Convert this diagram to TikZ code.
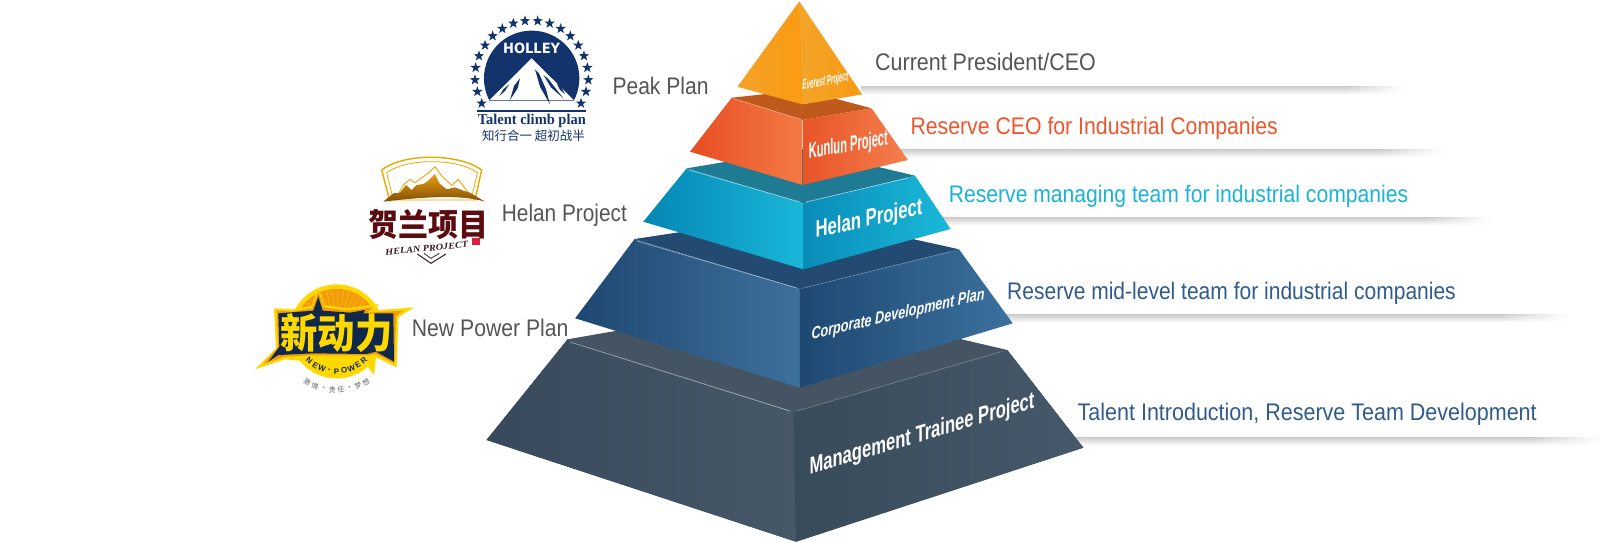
\documentclass[tikz,border=0pt]{standalone}
\usepackage{fontspec}
\usepackage{graphicx}
\setmainfont{Liberation Sans}
\newfontfamily\lserif{Liberation Serif}
\newfontfamily\cjkf{Noto Sans CJK SC}
\newfontfamily\blockf{DejaVu Sans}
\usetikzlibrary{shapes.geometric,fadings}
\tikzfading[name=bandfade,left color=transparent!100,right color=transparent!0]
\definecolor{navy}{HTML}{12336B}
\definecolor{txtgray}{HTML}{555555}
\definecolor{txtorange}{HTML}{F0562B}
\definecolor{txtcyan}{HTML}{1BB3D6}
\definecolor{txtblue}{HTML}{2F5C8C}
\definecolor{goldline}{HTML}{E8A800}
\definecolor{npnavy}{HTML}{10294A}
\definecolor{npyellow}{HTML}{FFD800}
\definecolor{nporange}{HTML}{F39A0E}
\newcommand\sidelabel[6]{\node[anchor=base west,inner sep=0pt,text=#1] (#2) at (#3,#4) {\resizebox{#5pt}{\height}{\fontsize{24}{24}\selectfont #6}};}
\newcommand\shadowband[3]{%
  \shade[top color=black!21,bottom color=white] (861,#1) rectangle (#3,#1+8.5);
  \fill[white,path fading=bandfade] (#2,#1-.5) rectangle (#3,#1+9);}
\tikzset{
  tierlabel/.style={transform shape,text=white,inner sep=0pt,font=\bfseries},
  hilite/.style={white,opacity=.45,line width=.8pt},
  hilitefaint/.style={white,opacity=.2,line width=.8pt},
  holleystar/.style={star,star points=5,star point ratio=2.5,fill=navy,inner sep=0pt,minimum size=11pt},
}
\begin{document}
\begin{tikzpicture}[x=1pt,y=-1pt]
\useasboundingbox (0,0) rectangle (1600,543);
\fill[white] (0,0) rectangle (1600,543);
% shadows under the right-hand labels
\shadowband{86}{1345}{1402}
\shadowband{149}{1380}{1441}
\shadowband{217}{1425}{1489}
\shadowband{314}{1500}{1567}
\shadowband{437}{1530}{1600}
% Management Trainee
\fill[color={rgb,255:red,66;green,84;blue,98}] (793.4,412.3) -- (1007.3,350) -- (1083.3,447.7) -- (796,541.7) -- (486.5,440) -- (567.6,339.3) -- cycle;
\fill[color={rgb,255:red,68;green,84;blue,98}] (567.6,339.3) -- (793.5,300) -- (1007.3,350) -- (793.4,412.3) -- cycle;
\shade[left color={rgb,255:red,55;green,73;blue,90},right color={rgb,255:red,70;green,88;blue,104}] (567.6,339.3) -- (793.4,412.3) -- (796,541.7) -- (486.5,440) -- cycle;
\shade[left color={rgb,255:red,56;green,75;blue,91},right color={rgb,255:red,70;green,89;blue,106}] (793.4,412.3) -- (1007.3,350) -- (1083.3,447.7) -- (796,541.7) -- cycle;
\draw[hilite] (570,342) -- (790,411);
\draw[hilitefaint] (797,411) -- (1000,352);
% Corporate Development
\fill[color={rgb,255:red,35;green,74;blue,112}] (634.6,239) -- (800,214) -- (959,249.3) -- (799.9,289) -- cycle;
\shade[left color={rgb,255:red,29;green,71;blue,112},right color={rgb,255:red,62;green,112;blue,156}] (634.6,239) -- (799.9,289) -- (799.9,387.7) -- (575.2,318.3) -- cycle;
\shade[left color={rgb,255:red,30;green,72;blue,114},right color={rgb,255:red,60;green,113;blue,157}] (799.9,289) -- (959,249.3) -- (1012.7,323.3) -- (799.9,387.7) -- cycle;
\draw[hilite] (637,241) -- (797,288);
\draw[hilitefaint] (803,288) -- (950,252);
% Helan
\fill[color={rgb,255:red,31;green,122;blue,147}] (686.7,168.3) -- (803,149) -- (915,175.7) -- (803.3,203.3) -- cycle;
\shade[left color={rgb,255:red,4;green,135;blue,179},right color={rgb,255:red,26;green,182;blue,216}] (686.7,168.3) -- (803.3,203.3) -- (803.3,269.3) -- (643.3,221.7) -- cycle;
\shade[left color={rgb,255:red,8;green,140;blue,184},right color={rgb,255:red,27;green,185;blue,217}] (803.3,203.3) -- (915,175.7) -- (950.5,229) -- (803.3,269.3) -- cycle;
\draw[hilite] (689,170) -- (800,202);
\draw[hilite] (806,202) -- (908,178);
% Kunlun
\fill[color={rgb,255:red,192;green,90;blue,28}] (731.7,97.7) -- (803,90) -- (871.5,108.3) -- (802.7,120) -- cycle;
\fill[color={rgb,255:red,236;green,90;blue,44}] (802.7,120) rectangle (804,185);
\shade[left color={rgb,255:red,230;green,78;blue,34},right color={rgb,255:red,245;green,122;blue,69}] (731.7,97.7) -- (802.7,120) -- (802.7,185) -- (690,151.7) -- cycle;
\shade[left color={rgb,255:red,232;green,84;blue,40},right color={rgb,255:red,245;green,127;blue,77}] (802.7,120) -- (871.5,108.3) -- (907.9,160) -- (802.7,185) -- cycle;
\draw[white,opacity=.3,line width=.7pt] (734,99) -- (800,119);
% Everest
\fill[color={rgb,255:red,248;green,158;blue,26}] (799.3,1.7) -- (861.8,94.3) -- (802.7,104.3) -- (737.7,86.7) -- cycle;
\shade[left color={rgb,255:red,243;green,162;blue,40},right color={rgb,255:red,251;green,155;blue,18}] (799.3,1.7) -- (802.7,104.3) -- (737.7,86.7) -- cycle;
\shade[left color={rgb,255:red,243;green,165;blue,42},right color={rgb,255:red,249;green,154;blue,20}] (799.3,1.7) -- (861.8,94.3) -- (802.7,104.3) -- cycle;
% tier labels
\node[tierlabel,yslant=.2] (everest) at (825.3,81.7) {\resizebox{46pt}{\height}{\fontsize{14}{14}\selectfont\itshape Everest Project}};
\node[tierlabel,yslant=.17] (kunlun) at (848.3,146) {\resizebox{79pt}{\height}{\fontsize{22}{22}\selectfont Kunlun Project}};
\node[tierlabel,yslant=.22] (helan) at (869,220) {\resizebox{107pt}{\height}{\fontsize{24}{24}\selectfont Helan Project}};
\node[tierlabel,yslant=.23] (corp) at (898,315) {\resizebox{173pt}{\height}{\fontsize{17}{17}\selectfont\itshape Corporate Development Plan}};
\node[tierlabel,yslant=.297] (mgmt) at (922,435) {\resizebox{225pt}{\height}{\fontsize{24}{24}\selectfont Management Trainee Project}};
% right labels
\sidelabel{txtgray}{ceo}{875}{70.7}{220.6}{Current President/CEO}
\sidelabel{txtorange}{rceo}{910.3}{134}{367.4}{Reserve CEO for Industrial Companies}
\sidelabel{txtcyan}{rmgr}{948.6}{202.7}{459.4}{Reserve managing team for industrial companies}
\sidelabel{txtblue}{rmid}{1007}{299.3}{448.6}{Reserve mid-level team for industrial companies}
\sidelabel{txtblue}{rtal}{1077.5}{420.7}{459}{Talent Introduction, Reserve Team Development}
% left labels
\sidelabel{txtgray}{peak}{612.3}{94.3}{96}{Peak Plan}
\sidelabel{txtgray}{helanl}{501.7}{221.7}{125}{Helan Project}
\sidelabel{txtgray}{newp}{411.7}{336.7}{156.6}{New Power Plan}
% Holley logo
\begin{scope}[shift={(465,10)},x=.3333pt,y=-.3333pt]
  \foreach \X/\Y [count=\i] in {50/280,37/245,30/210,32/173,42/138,60/106,83/78,112/56,145/40,180/33,218/33,254/40,287/56,316/78,340/106,357/138,367/173,370/210,363/245,348/280}
    \node[holleystar] (hstar\i) at (\X,\Y) {};
  \begin{scope}
    \clip (0,0) rectangle (420,271);
    \fill[navy] (200,205) circle (47.7pt);
  \end{scope}
  \fill[white] (200,145) -- (327,271) -- (73,271) -- cycle;
  \fill[navy] (210,178) -- (222,190) -- (243,238) -- (255,283) -- (225,230) -- cycle;
  \fill[navy] (235,195) -- (250,207) -- (295,265) -- (258,232) -- cycle;
  \fill[navy] (275,220) -- (287,228) -- (300,252) -- (285,240) -- cycle;
  \fill[navy] (165,205) -- (158,235) -- (135,270) -- (147,228) -- cycle;
  \fill[navy] (133,222) -- (120,243) -- (103,258) -- (115,238) -- cycle;
  \node[text=white,inner sep=0pt] (holleyt) at (200,115) {\resizebox{57pt}{10.5pt}{\blockf\bfseries HOLLEY}};
\end{scope}
\draw[navy,line width=1.8pt] (476.7,110.7) -- (586,110.7);
\node[anchor=base,text=navy,inner sep=0pt] (climb) at (531.8,124.3) {\resizebox{108pt}{\height}{\fontsize{15}{15}\selectfont\lserif\bfseries Talent climb plan}};
\node[text=navy,inner sep=0pt] (zhixing) at (533.5,136) {\resizebox{103pt}{\height}{\fontsize{12.5}{12.5}\selectfont\cjkf 知行合一 超初战半}};
% Helan logo
\begin{scope}[shift={(360,150)},x=.3333pt,y=-.3333pt]
  \draw[goldline,line width=1.4pt] (90,155) -- (65,60) .. controls (130,9) and (295,9) .. (365,60) -- (345,150);
  \draw[goldline,line width=.8pt] (100,150) -- (80,68) .. controls (140,24) and (290,24) .. (352,68) -- (335,145);
  \draw[goldline,fill=white,line width=.9pt] (105,150) -- (130,105) -- (150,88) -- (165,98) -- (200,73) -- (225,50) -- (245,78) -- (275,106) -- (295,88) -- (320,122) -- (345,150) -- cycle;
  \shade[top color={rgb,255:red,232;green,160;blue,16},bottom color={rgb,255:red,130;green,78;blue,8}] (70,155) -- (100,130) -- (120,128) -- (138,105) -- (155,120) -- (170,105) -- (190,102) -- (205,92) -- (225,72) -- (238,100) -- (260,118) -- (285,112) -- (310,122) -- (330,128) -- (375,155) .. controls (300,132) and (180,142) .. (70,155) -- cycle;
  \node[text={rgb,255:red,90;green,12;blue,16},inner sep=0pt] (helanzh) at (205,225) {\resizebox{120pt}{27pt}{\cjkf\bfseries 贺兰项目}};
  \node[rotate=5.5,text={rgb,255:red,58;green,26;blue,32},inner sep=0pt] (helanen) at (200,295) {\resizebox{83pt}{\height}{\fontsize{9}{9}\selectfont\lserif\bfseries\itshape HELAN PROJECT}};
  \fill[color={rgb,255:red,216;green,32;blue,58}] (337,263) rectangle (360,285);
  \draw[color={rgb,255:red,58;green,26;blue,32},line width=1pt] (172,312) -- (213,340) -- (258,312);
  \draw[color={rgb,255:red,58;green,26;blue,32},line width=.8pt] (192,310) -- (213,325) -- (238,310);
\end{scope}
% New Power logo
\begin{scope}[shift={(250,280)},x=.3333pt,y=-.3333pt]
  \fill[npyellow] (260,154) circle (47pt);
  \fill[nporange] (260,154) circle (42.5pt);
  \foreach \a in {0,8,...,352}
    \draw[npyellow,line width=.7pt,opacity=.6] ({260+70*cos(\a)},{154+70*sin(\a)}) -- ({260+122*cos(\a)},{154+122*sin(\a)});
  \begin{scope}
    \clip (0,236) rectangle (520,320);
    \fill[npyellow] (260,154) circle (47pt);
  \end{scope}
  \fill[npyellow] (72,85) -- (125,88) -- (185,78) -- (205,20) -- (222,75) -- (290,85) -- (388,72) -- (365,92) -- (492,82) -- (445,112) -- (440,262) -- (378,232) -- (372,285) -- (345,250) -- (180,245) -- (105,238) -- (15,268) -- (78,205) -- cycle;
  \fill[nporange] (80,92) -- (125,95) -- (188,85) -- (205,35) -- (220,82) -- (290,92) -- (370,82) -- (350,98) -- (460,92) -- (438,108) -- (434,250) -- (378,222) -- (350,226) -- (180,226) -- (103,230) -- (40,252) -- (84,203) -- cycle;
  \fill[npnavy] (85,100) -- (190,92) -- (205,50) -- (218,92) -- (300,98) -- (345,90) -- (340,100) -- (430,100) -- (432,245) -- (378,215) -- (350,222) -- (190,220) -- (85,225) -- (55,245) -- (88,200) -- cycle;
  \node[text=npyellow,inner sep=0pt] (npzh) at (260,158) {\resizebox{112pt}{35pt}{\cjkf\bfseries 新动力}};
  \foreach \c [count=\i] in {N,E,W,-,P,O,W,E,R}{
    \pgfmathsetmacro\t{43-(\i-1)*10.75}
    \node[rotate=-\t,text=npnavy,inner sep=0pt,font=\bfseries\fontsize{8}{8}\selectfont] (npen\i) at ({260-120*sin(\t)},{154+120*cos(\t)}) {\c};
  }
  \foreach \c [count=\i] in {激,情,·,责,任,·,梦,想}{
    \pgfmathsetmacro\t{30-(\i-1)*8.57}
    \node[rotate=-\t,text=black!60,inner sep=0pt,font=\cjkf\fontsize{7}{7}\selectfont] (npcn\i) at ({260-176*sin(\t)},{154+176*cos(\t)}) {\c};
  }
\end{scope}
\end{tikzpicture}
\end{document}
